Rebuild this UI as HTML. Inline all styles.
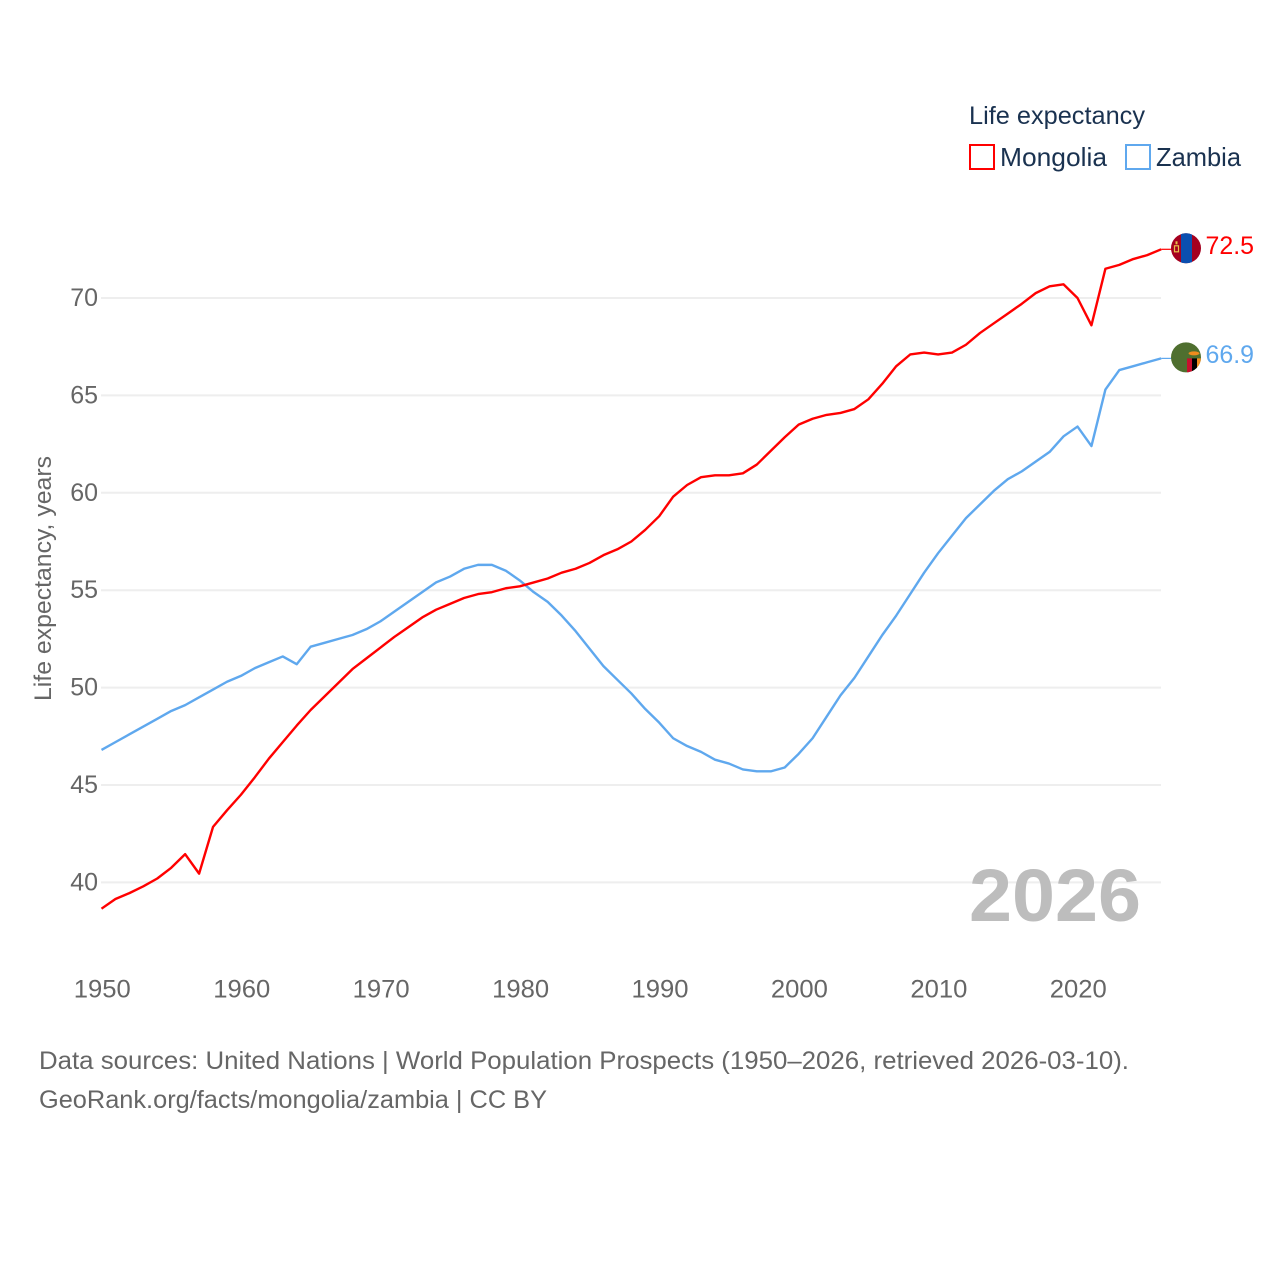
<!DOCTYPE html>
<html lang="en">
<head>
<meta charset="utf-8">
<title>Life expectancy: Mongolia and Zambia</title>
<style>
html,body{margin:0;padding:0;background:#fff}
svg{display:block}
text{font-family:"Liberation Sans",sans-serif}
</style>
</head>
<body>
<svg id="chart" width="1280" height="1280" viewBox="0 0 1280 1280" xmlns="http://www.w3.org/2000/svg">
  <defs>
    <clipPath id="flag-clip-a"><circle id="clip-a" cx="1186" cy="248" r="15"></circle></clipPath>
    <clipPath id="flag-clip-b"><circle id="clip-b" cx="1186" cy="357" r="15"></circle></clipPath>
  </defs>
  <g id="grid"></g>
  <g id="y-ticks"></g>
  <g id="x-ticks"></g>
  <text transform="translate(51,701) rotate(-90)" font-size="24" fill="#666" textLength="245" lengthAdjust="spacingAndGlyphs">Life expectancy, years</text>

  <path id="line-zambia" fill="none" stroke="#5fa8ee" stroke-width="2.4" stroke-linejoin="round"></path>
  <path id="line-mongolia" fill="none" stroke="#ff0000" stroke-width="2.4" stroke-linejoin="round"></path>
  <line id="stub-zambia" stroke="#5fa8ee" stroke-width="1.2"></line>
  <line id="stub-mongolia" stroke="#ff0000" stroke-width="1.2"></line>

  <g id="flag-mongolia">
    <g clip-path="url(#flag-clip-a)">
      <rect x="1170" y="230" width="32" height="36" fill="#a5001f"></rect>
      <rect x="1181" y="230" width="11" height="36" fill="#0b4fb0"></rect>
      <rect x="1174.5" y="245.5" width="4" height="6" fill="none" stroke="#e8c04a" stroke-width="1.2"></rect>
      <rect x="1175.5" y="241" width="2" height="3" fill="#e8c04a"></rect>
    </g>
  </g>
  <g id="flag-zambia">
    <g clip-path="url(#flag-clip-b)">
      <rect x="1170" y="339" width="32" height="36" fill="#4f6f2f"></rect>
      <rect x="1187" y="358" width="5" height="16" fill="#c8102e"></rect>
      <rect x="1192" y="358" width="5" height="16" fill="#000"></rect>
      <rect x="1197" y="358" width="5" height="16" fill="#ef8c1e"></rect>
      <ellipse cx="1194" cy="353" rx="5.5" ry="2" fill="#ef8c1e"></ellipse>
    </g>
  </g>
  <text id="value-mongolia" x="1205.5" y="254" font-size="25" fill="#ff0000" textLength="48.5" lengthAdjust="spacingAndGlyphs"></text>
  <text id="value-zambia" x="1205.5" y="363" font-size="25" fill="#5fa8ee" textLength="48.5" lengthAdjust="spacingAndGlyphs"></text>

  <text x="969" y="921" font-size="74" font-weight="700" fill="#bdbdbd" textLength="172" lengthAdjust="spacingAndGlyphs">2026</text>

  <g>
    <text x="969" y="124" font-size="25" fill="#1a3250" textLength="176" lengthAdjust="spacingAndGlyphs">Life expectancy</text>
    <g>
      <rect x="970" y="145" width="24" height="24" fill="#fff" stroke="#ff0000" stroke-width="2"></rect>
      <text x="1000" y="166" font-size="26" fill="#1a3250" textLength="107" lengthAdjust="spacingAndGlyphs">Mongolia</text>
    </g>
    <g>
      <rect x="1126" y="145" width="24" height="24" fill="#fff" stroke="#5fa8ee" stroke-width="2"></rect>
      <text x="1156" y="166" font-size="26" fill="#1a3250" textLength="85" lengthAdjust="spacingAndGlyphs">Zambia</text>
    </g>
  </g>

  <text x="39" y="1069" font-size="25" fill="#666" textLength="1090" lengthAdjust="spacingAndGlyphs">Data sources: United Nations | World Population Prospects (1950–2026, retrieved 2026-03-10).</text>
  <text x="39" y="1108" font-size="25" fill="#666" textLength="508" lengthAdjust="spacingAndGlyphs">GeoRank.org/facts/mongolia/zambia | CC BY</text>
</svg>
<script>
const startYear = 1950;
const xTickLabels = [1950, 1960, 1970, 1980, 1990, 2000, 2010, 2020];
const yTickLabels = [40, 45, 50, 55, 60, 65, 70];
const mongolia = [
  38.65, 39.15, 39.45, 39.8, 40.2, 40.75, 41.45, 40.45, 42.85, 43.7,
  44.5, 45.4, 46.35, 47.2, 48.05, 48.85, 49.55, 50.25, 50.95, 51.5,
  52.05, 52.6, 53.1, 53.6, 54.0, 54.3, 54.6, 54.8, 54.9, 55.1,
  55.2, 55.4, 55.6, 55.9, 56.1, 56.4, 56.8, 57.1, 57.5, 58.1,
  58.8, 59.8, 60.4, 60.8, 60.9, 60.9, 61.0, 61.45, 62.15, 62.85,
  63.5, 63.8, 64.0, 64.1, 64.3, 64.8, 65.6, 66.5, 67.1, 67.2,
  67.1, 67.2, 67.6, 68.2, 68.7, 69.2, 69.7, 70.25, 70.6, 70.7,
  70.0, 68.6, 71.5, 71.7, 72.0, 72.2, 72.5
];
const zambia = [
  46.8, 47.2, 47.6, 48.0, 48.4, 48.8, 49.1, 49.5, 49.9, 50.3,
  50.6, 51.0, 51.3, 51.6, 51.2, 52.1, 52.3, 52.5, 52.7, 53.0,
  53.4, 53.9, 54.4, 54.9, 55.4, 55.7, 56.1, 56.3, 56.3, 56.0,
  55.5, 54.9, 54.4, 53.7, 52.9, 52.0, 51.1, 50.4, 49.7, 48.9,
  48.2, 47.4, 47.0, 46.7, 46.3, 46.1, 45.8, 45.7, 45.7, 45.9,
  46.6, 47.4, 48.5, 49.6, 50.5, 51.6, 52.7, 53.7, 54.8, 55.9,
  56.9, 57.8, 58.7, 59.4, 60.1, 60.7, 61.1, 61.6, 62.1, 62.9,
  63.4, 62.4, 65.3, 66.3, 66.5, 66.7, 66.9
];

const SVG_NS = 'http://www.w3.org/2000/svg';
function xScale(year) { return 101.5 + (year - 1950) * 13.943; }
function yScale(v) { return 298 - (v - 70) * 19.48; }
function linePath(values) {
  return values.map(function (v, i) {
    return (i ? 'L' : 'M') + xScale(startYear + i).toFixed(2) + ' ' + yScale(v).toFixed(2);
  }).join(' ');
}

const grid = document.getElementById('grid');
const yTicks = document.getElementById('y-ticks');
const xTicks = document.getElementById('x-ticks');

yTickLabels.forEach(function (t) {
  const g = document.createElementNS(SVG_NS, 'line');
  
  
  g.setAttribute('x1', 101);
  g.setAttribute('x2', 1161);
  g.setAttribute('y1', yScale(t));
  g.setAttribute('y2', yScale(t));
  g.setAttribute('stroke', '#eeeeee');
  g.setAttribute('stroke-width', 2);
  grid.appendChild(g);

  const label = document.createElementNS(SVG_NS, 'text');
  
  
  label.setAttribute('x', 98);
  label.setAttribute('y', yScale(t) + 8);
  label.setAttribute('text-anchor', 'end');
  label.setAttribute('font-size', 25);
  label.setAttribute('fill', '#666');
  label.textContent = t;
  yTicks.appendChild(label);
});

xTickLabels.forEach(function (t) {
  const label = document.createElementNS(SVG_NS, 'text');
  
  
  label.setAttribute('x', xScale(t) + 0.8);
  label.setAttribute('y', 997.5);
  label.setAttribute('text-anchor', 'middle');
  label.setAttribute('font-size', 25);
  label.setAttribute('textLength', 57);
  label.setAttribute('lengthAdjust', 'spacingAndGlyphs');
  label.setAttribute('fill', '#666');
  label.textContent = t;
  xTicks.appendChild(label);
});

function placeSeries(values, name, baseY) {
  const last = values[values.length - 1];
  const endX = xScale(startYear + values.length - 1);
  const endY = yScale(last);
  document.getElementById('line-' + name).setAttribute('d', linePath(values));
  const stub = document.getElementById('stub-' + name);
  stub.setAttribute('x1', endX);
  stub.setAttribute('x2', 1172);
  stub.setAttribute('y1', endY);
  stub.setAttribute('y2', endY);
  const dy = endY - baseY;
  document.getElementById('flag-' + name).setAttribute('transform', 'translate(0,' + dy.toFixed(2) + ')');
  const value = document.getElementById('value-' + name);
  value.setAttribute('y', (endY + 4.8).toFixed(2));
  value.textContent = last.toFixed(1);
}
placeSeries(mongolia, 'mongolia', 249);
placeSeries(zambia, 'zambia', 358);
</script>
</body>
</html>
